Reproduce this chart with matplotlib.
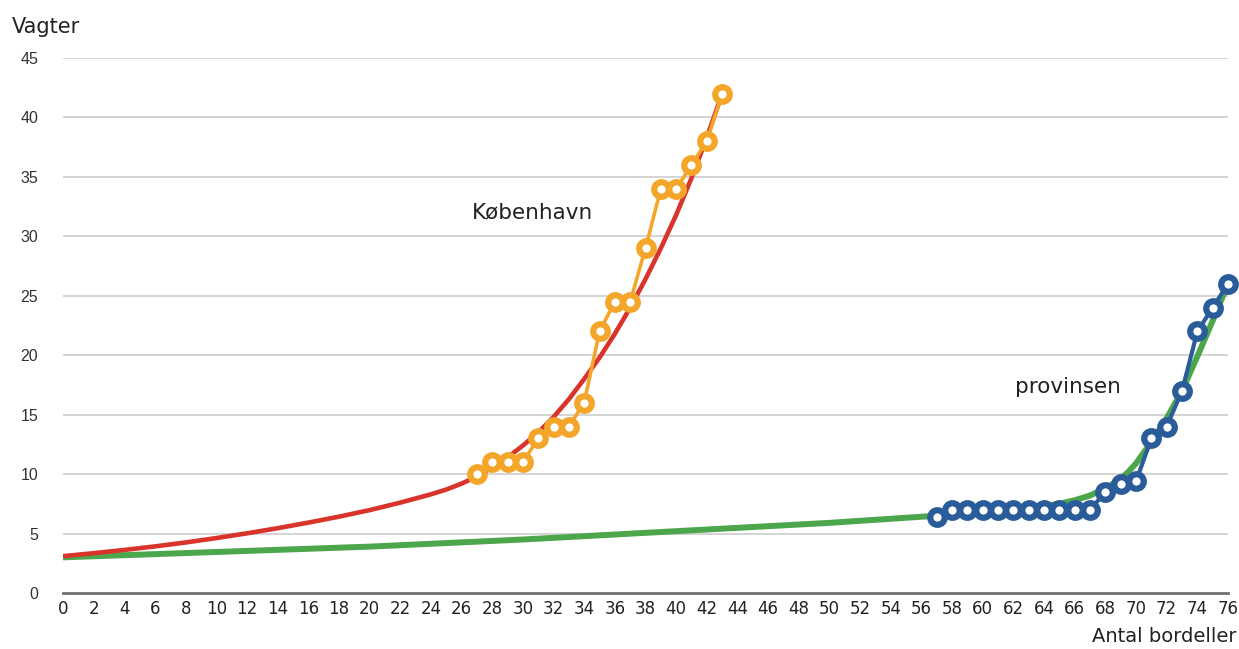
import matplotlib
matplotlib.use("Agg")
import matplotlib.pyplot as plt

# --- data ---
kbh_x = list(range(27, 44))
kbh_y = [10, 11, 11, 11, 13, 14, 14, 16, 22, 24.5, 24.5, 29, 34, 34, 36, 38, 42]

prov_x = list(range(57, 77))
prov_y = [6.4, 7, 7, 7, 7, 7, 7, 7, 7, 7, 7, 8.5, 9.2, 9.4, 13, 14, 17, 22, 24, 26]

# trend curves
kbh_trend_x = [0, 2, 4, 6, 8, 10, 12, 14, 16, 18, 20, 22, 24, 25, 26, 27, 28, 29, 30,
               31, 32, 33, 34, 35, 36, 37, 38, 39, 40, 41, 42, 43]
kbh_trend_y = [3.1, 3.35, 3.62, 3.92, 4.25, 4.62, 5.02, 5.45, 5.92, 6.42, 6.97, 7.6, 8.3,
               8.7, 9.2, 9.8, 10.55, 11.4, 12.4, 13.5, 14.8, 16.3, 18.0, 19.8, 21.8,
               24.0, 26.4, 29.0, 31.8, 34.9, 38.3, 42.0]

prov_trend_x = [0, 10, 20, 30, 40, 50, 57, 60, 63, 65, 66, 67, 68, 69, 69.5, 70, 70.5,
                71, 72, 73, 74, 75, 76]
prov_trend_y = [3.0, 3.45, 3.9, 4.5, 5.2, 5.9, 6.5, 6.8, 7.1, 7.5, 7.8, 8.2, 8.8, 9.6,
                10.2, 10.9, 11.8, 12.7, 14.7, 17.0, 19.9, 22.9, 26.0]

xticks = list(range(0, 77, 2))
yticks = list(range(0, 46, 5))

# --- figure ---
fig = plt.figure(figsize=(12.39, 6.49), dpi=100)
ax = fig.add_axes([63/1239, 1 - 593/649, (1228-63)/1239, (593-58)/649])

RED = "#d9342b"
GREEN = "#4ca64c"
ORANGE = "#f4a62a"
BLUE = "#2b5c9a"

ax.plot(prov_trend_x, prov_trend_y, color=GREEN, lw=4.3, solid_capstyle="butt",
        solid_joinstyle="round", zorder=2)
ax.plot(kbh_trend_x, kbh_trend_y, color=RED, lw=3.3, solid_capstyle="butt",
        solid_joinstyle="round", zorder=3)

ax.plot(kbh_x, kbh_y, color=ORANGE, lw=2.6, marker="o", ms=10.5, mew=4.5,
        mfc="white", mec=ORANGE, zorder=4, clip_on=False)
ax.plot(prov_x, prov_y, color=BLUE, lw=3.0, marker="o", ms=10.5, mew=4.5,
        mfc="white", mec=BLUE, zorder=4, clip_on=False)

ax.set_xlim(0, 76)
ax.set_ylim(0, 45)
ax.set_xticks(xticks)
ax.set_xticklabels([str(v) for v in xticks], fontsize=12, family="DejaVu Sans", color="#222222")
ax.set_yticks(yticks)
ax.set_yticklabels([str(v) for v in yticks], fontsize=11.5, family="Liberation Sans", color="#333333")
ax.tick_params(axis="both", length=0)
ax.tick_params(axis="x", pad=5)
ax.tick_params(axis="y", pad=18)

for y in yticks[1:]:
    ax.axhline(y, color="#d4d4d4", lw=1.4, zorder=1)
for s in ["top", "right", "left"]:
    ax.spines[s].set_visible(False)
ax.spines["bottom"].set_color("#707070")
ax.spines["bottom"].set_linewidth(2.0)

ax.text(26.7, 32.0, "København", fontsize=15.5, family="DejaVu Sans", color="#222222",
        ha="left", va="center")
ax.text(62.1, 17.3, "provinsen", fontsize=15.5, family="DejaVu Sans", color="#222222",
        ha="left", va="center")

fig.text(12/1239, 1 - 27/649, "Vagter", fontsize=15, family="DejaVu Sans", color="#222222",
         ha="left", va="center")
fig.text(1236/1239, 1 - 636/649, "Antal bordeller", fontsize=14, family="DejaVu Sans",
         color="#222222", ha="right", va="center")

fig.savefig("out.png", dpi=100)
